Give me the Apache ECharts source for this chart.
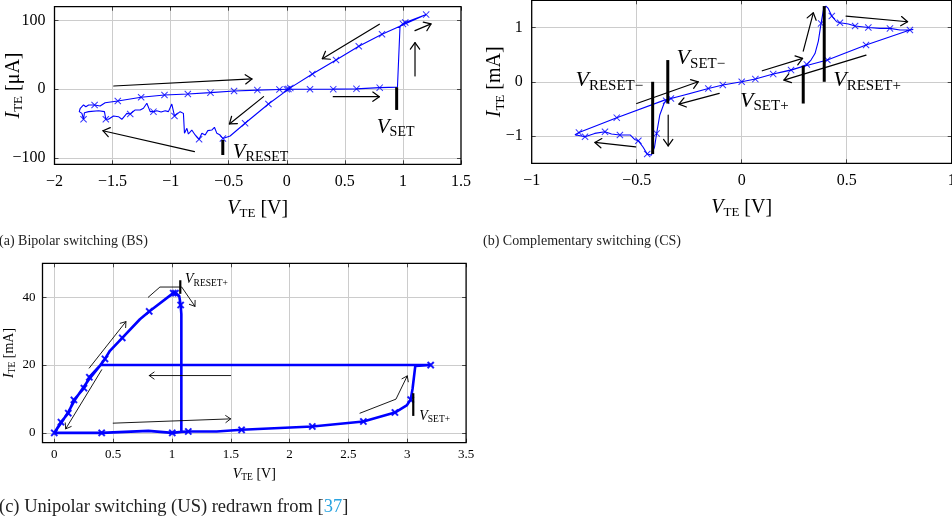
<!DOCTYPE html>
<html><head><meta charset="utf-8">
<script src="https://cdn.jsdelivr.net/npm/echarts@6/dist/echarts.min.js"></script>
<style>html,body{margin:0;padding:0;background:#fff}#c{width:952px;height:526px}</style>
</head><body><div id="c"></div>
<script>
// ================= DATA =================
// (a) Bipolar switching: I in µA vs V
const BS_PATH = [[0,0],[0.2,0],[0.4,0.2],[0.6,0.6],[0.8,2.4],[0.953,3.2],[0.975,92],[1.0,95],[1.02,97],[1.2,108.5],
 [0.82,80],[0.62,62.5],[0.424,42.6],[0.22,22.2],[0.03,2],[-0.158,-21.4],[-0.359,-49.4],[-0.488,-67.9],[-0.55,-71.5],
 [-0.574,-66.4],[-0.602,-64],[-0.623,-55.2],[-0.646,-59.2],[-0.68,-60.1],[-0.703,-66.4],[-0.731,-64],[-0.755,-72.7],
 [-0.789,-66.4],[-0.818,-59.2],[-0.847,-65],[-0.86,-56.7],[-0.881,-64],[-0.89,-35],[-0.918,-32.5],[-0.967,-38.8],
 [-0.99,-21.4],[-1.019,-32.5],[-1.047,-31.1],[-1.082,-33],[-1.119,-31.1],[-1.148,-32.5],[-1.176,-32.5],[-1.205,-20.3],
 [-1.234,-27.6],[-1.262,-30],[-1.305,-30],[-1.348,-35.9],[-1.377,-35],[-1.42,-43.6],[-1.449,-39.8],[-1.492,-38.8],
 [-1.535,-43.6],[-1.558,-43.6],[-1.57,-32.5],[-1.62,-31.1],[-1.706,-32.5],[-1.742,-34],[-1.75,-43.6],[-1.764,-35],
 [-1.787,-32.5],[-1.778,-27.6],[-1.75,-22.8],[-1.73,-25.3],[-1.706,-22.8],[-1.655,-22.8],[-1.607,-24.3],[-1.564,-19.5],
 [-1.455,-17],[-1.254,-11.6],[-1.053,-8.3],[-0.852,-6.8],[-0.657,-4.9],[-0.454,-2.5],[-0.253,-1.2],[-0.063,-0.3],[0,0]];
const BS_MARKS = [[0,0],[0.014,0.5],[0.2,0],[0.4,0.2],[0.6,0.6],[0.8,2.4],[1.0,95],[1.02,97],[1.2,108.5],
 [0.82,80],[0.62,62.5],[0.424,42.6],[0.22,22.2],[0.03,2],[-0.158,-21.4],[-0.359,-49.4],[-0.55,-71.5],
 [-0.755,-72.7],[-0.967,-38.8],[-1.148,-32.5],[-1.348,-35.9],[-1.558,-43.6],[-1.75,-43.6],
 [-1.655,-22.8],[-1.455,-17],[-1.254,-11.6],[-1.053,-8.3],[-0.852,-6.8],[-0.657,-4.9],[-0.454,-2.5],[-0.253,-1.2],[-0.063,-0.3]];
const BS_ARROWS = [[[-1.49,4.8],[-0.3,15]], [[-0.795,-90.7],[-1.583,-60.2]], [[-0.2,-10.7],[-0.494,-50.4]],
 [[0.797,94.5],[0.306,44.5]], [[0.4,-10.7],[0.797,-10.7]], [[1.104,19.3],[1.104,67.7]], [[1.104,85.2],[1.242,95]]];
const BS_BARS = [[[0.946,2.9],[0.946,-30]], [[-0.551,-73.7],[-0.551,-95.5]]];
const BS_LABELS = [[0.775,-55,'SET','left'], [-0.465,-92,'RESET','left']];

// (b) Complementary switching: I in mA vs V
const CS_PATH = [[0,0],[0.065,0.05],[0.15,0.142],[0.235,0.215],[0.28,0.27],[0.31,0.32],[0.33,0.4],[0.349,0.52],[0.365,0.75],
 [0.378,1.075],[0.389,1.32],[0.401,1.394],[0.412,1.35],[0.429,1.21],[0.452,1.105],[0.468,1.087],[0.508,1.063],[0.54,1.026],
 [0.603,1.0],[0.659,0.983],[0.706,0.983],[0.754,0.952],[0.801,0.952],[0.817,0.965],
 [0.801,0.952],[0.592,0.676],[0.408,0.4],[0.31,0.3],[0.23,0.215],[0.15,0.142],[0.065,0.05],[0,0],[-0.09,-0.06],[-0.159,-0.122],
 [-0.25,-0.22],[-0.337,-0.306],[-0.36,-0.35],[-0.37,-0.4],[-0.39,-0.61],[-0.405,-0.95],[-0.415,-1.2],[-0.43,-1.35],[-0.45,-1.33],
 [-0.47,-1.2],[-0.492,-1.086],[-0.51,-1.06],[-0.53,-0.98],[-0.58,-0.98],[-0.62,-0.96],[-0.651,-0.92],[-0.7,-0.95],[-0.746,-1.01],
 [-0.794,-0.975],[-0.775,-0.935],[-0.595,-0.66],[-0.368,-0.337],[-0.3,-0.27],[-0.159,-0.122],[-0.09,-0.06],[0,0]];
const CS_MARKS = [[0,0],[0.065,0.05],[0.15,0.142],[0.235,0.215],[0.31,0.32],[0.378,1.075],[0.429,1.21],[0.468,1.087],
 [0.54,1.026],[0.603,1.0],[0.706,0.983],[0.801,0.952],[0.592,0.676],[0.408,0.4],[-0.09,-0.06],[-0.159,-0.122],
 [-0.337,-0.306],[-0.36,-0.35],[-0.405,-0.95],[-0.45,-1.33],[-0.492,-1.086],[-0.58,-0.98],[-0.651,-0.92],[-0.746,-1.01],
 [-0.775,-0.935],[-0.595,-0.66]];
const CS_ARROWS = [[[-0.5,-0.4],[-0.207,0]], [[-0.107,-0.214],[-0.299,-0.411]], [[-0.35,-0.613],[-0.35,-1.18]],
 [[-0.505,-1.197],[-0.699,-1.116]], [[0.098,0.203],[0.29,0.43]], [[0.293,0.565],[0.341,1.27]],
 [[0.592,0.492],[0.201,0.031]], [[0.497,1.21],[0.79,1.105]]];
const CS_BARS = [[[-0.352,0.4],[-0.352,-0.4]], [[-0.424,0],[-0.424,-1.33]], [[0.293,0.295],[0.293,-0.4]], [[0.393,1.394],[0.393,0]]];
const CS_LABELS = [[-0.31,0.43,'SET\u2212','left'], [-0.469,0.03,'RESET\u2212','right'], [-0.008,-0.35,'SET+','left'], [0.436,0.03,'RESET+','left']];

// (c) Unipolar switching: I in mA vs V
const US_PATH = [[0,0],[0.403,0],[0.8,0.6],[1.003,0],[1.08,0.3],[1.139,0.4],[1.38,0.4],[1.592,0.9],[2.193,1.87],[2.627,3.35],
 [2.895,6.0],[2.995,8.1],[3.029,9.8],[3.045,13],[3.068,19.7],[3.199,20],[0.394,20],[0.3,16],[0.18,10],[0.12,6.2],[0.06,3],[0,0],
 [0.057,3.15],[0.119,5.8],[0.167,9.7],[0.252,13.2],[0.298,16.4],[0.39,19.9],[0.431,21.8],[0.473,24.2],[0.578,28],[0.728,33.5],
 [0.807,35.8],[1.011,41.2],[1.03,41.2],[1.062,40.4],[1.074,37.7],[1.08,35],[1.08,0.4]];
const US_MARKS = [[0,0],[0.403,0],[1.003,0],[1.139,0.4],[1.592,0.9],[2.193,1.87],[2.627,3.35],[2.895,6.0],[3.029,9.8],[3.199,20],
 [0.057,3.15],[0.119,5.8],[0.167,9.7],[0.252,13.2],[0.298,16.4],[0.431,21.8],[0.578,28],[0.807,35.8],[1.011,41.2],[1.03,41.2],[1.074,37.7]];
const US_ARROWS = [[[0.799,40],[0.898,43],[1.083,43],[1.196,37.3]], [[0.297,19.1],[0.609,32.8]], [[0.403,18.6],[0.097,1.18]],
 [[1.499,16.9],[0.807,16.9]], [[0.501,2.86],[1.499,4.13]], [[2.598,5.8],[2.904,9.94],[3.0,16.8]]];
const US_BARS = [[[1.071,45],[1.071,41]], [[3.051,11.7],[3.051,5.0]]];
const US_LABELS = [[1.111,45.2,'RESET+','left'], [3.102,5.0,'SET+','left']];

// ================= CHART =================
const FONT = '"Liberation Serif","Times New Roman",serif';
const BLUE = '#0000ff';
const XMARK = 'path://M1,0L5,4L9,0L10,1L6,5L10,9L9,10L5,6L1,10L0,9L4,5L0,1Z';
const fmt = v => String(+(+v).toFixed(2)).replace('-', '\u2212');

function axes(kind, gi, min, max, tick, lab, name, nm) {
  const base = {type:'value', gridIndex:gi, min, max, ...tick,
    axisLine:{show:false, onZero:false},
    axisTick:{show:true, inside:true, length:4, lineStyle:{color:'#444', width:1}}};
  const main = Object.assign({}, base, {
    position: kind==='x' ? 'bottom' : 'left',
    splitLine:{show:true, showMinLine:false, showMaxLine:false, lineStyle:{color:'#cccccc', width:1}},
    axisLabel:Object.assign({show:true, color:'#000', fontFamily:FONT, formatter:fmt}, lab),
    name: name.text, nameLocation:'middle', nameGap:name.gap, nameRotate: kind==='y'?90:0, nameMoveOverlap:false,
    nameTextStyle:{color:'#000', fontFamily:FONT, fontSize:nm.fs,
      rich:{i:{fontFamily:FONT, fontStyle:'italic', fontSize:nm.fs, color:'#000'},
            s:{fontFamily:FONT, fontSize:nm.sfs, color:'#000', padding:[nm.pad,0,0,0]}}}
  });
  const opp = Object.assign({}, base, {position: kind==='x' ? 'top' : 'right',
    splitLine:{show:false}, axisLabel:{show:false}});
  return [main, opp];
}

const NM_AB = {fs:20, sfs:13, pad:10};
const NM_C = {fs:14, sfs:9.5, pad:7};
const xAxis = [
  ...axes('x',0,-2,1.5,{interval:0.5},{fontSize:16, margin:9},{text:'{i|V}{s|TE} [V]', gap:33},NM_AB),
  ...axes('x',1,-1,1,{interval:0.5},{fontSize:16, margin:9},{text:'{i|V}{s|TE} [V]', gap:33},NM_AB),
  ...axes('x',2,-0.1,3.5,{splitNumber:7},{fontSize:13, margin:5, showMinLabel:false},{text:'{i|V}{s|TE} [V]', gap:23},NM_C)
];
const yAxis = [
  ...axes('y',0,-109,120,{splitNumber:2},{fontSize:16, margin:9, showMinLabel:false, showMaxLabel:false},{text:'{i|I}{s|TE} [\u03bcA]', gap:29},NM_AB),
  ...axes('y',1,-1.5,1.5,{splitNumber:3},{fontSize:16, margin:9, showMinLabel:false, showMaxLabel:false},{text:'{i|I}{s|TE} [mA]', gap:25},NM_AB),
  ...axes('y',2,-2.9,50,{splitNumber:3},{fontSize:13, margin:7, showMinLabel:false, showMaxLabel:false},{text:'{i|I}{s|TE} [mA]', gap:25},NM_C)
];

function arrowSeries(ai, list, width, head, headLen) {
  return {type:'custom', xAxisIndex:ai, yAxisIndex:ai, silent:true, clip:false, z:6,
    data:list.map(a => a[0]),
    renderItem:(params, api) => {
      const pts = list[params.dataIndex].map(p => api.coord(p));
      const st = {stroke:'#000', lineWidth:width, fill:null, lineCap: head ? 'round' : 'butt', lineJoin:'round'};
      const ch = [{type:'polyline', shape:{points:pts}, style:st}];
      if (head) {
        const a = pts[pts.length-2], b = pts[pts.length-1];
        const ang = Math.atan2(b[1]-a[1], b[0]-a[0]), s = 0.62;
        const p1 = [b[0]-headLen*Math.cos(ang-s), b[1]-headLen*Math.sin(ang-s)];
        const p2 = [b[0]-headLen*Math.cos(ang+s), b[1]-headLen*Math.sin(ang+s)];
        ch.push({type:'polyline', shape:{points:[p1,b,p2]}, style:st});
      }
      return {type:'group', children:ch};
    }};
}
function labelSeries(ai, list, fs, sfs, pad) {
  return {type:'custom', xAxisIndex:ai, yAxisIndex:ai, silent:true, clip:false, z:7,
    data:list.map(l => [l[0], l[1]]),
    renderItem:(params, api) => {
      const L = list[params.dataIndex];
      const p = api.coord([L[0], L[1]]);
      return {type:'text', x:p[0], y:p[1], style:{
        text:'{v|V}{s|' + L[2] + '}', align:L[3], verticalAlign:'middle', fill:'#000',
        rich:{v:{fontFamily:FONT, fontStyle:'italic', fontSize:fs, fill:'#000'},
              s:{fontFamily:FONT, fontSize:sfs, fill:'#000', padding:[pad,0,0,0]}}}};
    }};
}
function curve(ai, path, marks, w, ms) {
  return [
    {type:'line', xAxisIndex:ai, yAxisIndex:ai, data:path, showSymbol:false, silent:true, z:3,
      lineStyle:{color:BLUE, width:w}, itemStyle:{color:BLUE}},
    {type:'scatter', xAxisIndex:ai, yAxisIndex:ai, data:marks, symbol:XMARK, symbolSize:ms, silent:true, z:4,
      itemStyle:{color:BLUE, borderColor:BLUE, borderWidth: w > 2 ? 1.2 : 0}}
  ];
}

const GRID_COMMON = {show:true, borderColor:'#000', borderWidth:1.3, z:10, containLabel:false, outerBoundsMode:'none'};
const option = {
  animation:false,
  backgroundColor:'#fff',
  grid:[
    Object.assign({left:54.5, top:6.7, width:406.5, height:157.6}, GRID_COMMON),
    Object.assign({left:531.7, top:0.3, width:420, height:163}, GRID_COMMON),
    Object.assign({left:42.5, top:263.3, width:423.6, height:179.4}, GRID_COMMON)
  ],
  xAxis, yAxis,
  series:[
    ...curve(0, BS_PATH, BS_MARKS, 1.1, 7),
    arrowSeries(0, BS_ARROWS, 1.2, true, 8),
    arrowSeries(0, BS_BARS, 3, false, 0),
    labelSeries(0, BS_LABELS, 21, 14, 10),
    ...curve(2, CS_PATH, CS_MARKS, 1.1, 7),
    arrowSeries(2, CS_ARROWS, 1.2, true, 8),
    arrowSeries(2, CS_BARS, 3, false, 0),
    labelSeries(2, CS_LABELS, 22, 15, 11),
    ...curve(4, US_PATH, US_MARKS, 2.6, 6),
    arrowSeries(4, US_ARROWS, 0.9, true, 6),
    arrowSeries(4, US_BARS, 2.2, false, 0),
    labelSeries(4, US_LABELS, 14, 9.5, 7)
  ],
  graphic:[
    {type:'text', x:-1, y:241, style:{text:'(a) Bipolar switching (BS)', fontFamily:FONT, fontSize:14, fill:'#222', verticalAlign:'middle'}},
    {type:'text', x:483, y:241, style:{text:'(b) Complementary switching (CS)', fontFamily:FONT, fontSize:14, fill:'#222', verticalAlign:'middle'}},
    {type:'text', x:-1, y:507, style:{text:'(c) Unipolar switching (US) redrawn from [{c|37}]', fontFamily:FONT, fontSize:18.5, fill:'#222', verticalAlign:'middle',
      rich:{c:{fontFamily:FONT, fontSize:18.5, fill:'#29a3e0'}}}}
  ]
};
const chart = echarts.init(document.getElementById('c'), null, {renderer:'canvas'});
chart.setOption(option);
</script></body></html>
